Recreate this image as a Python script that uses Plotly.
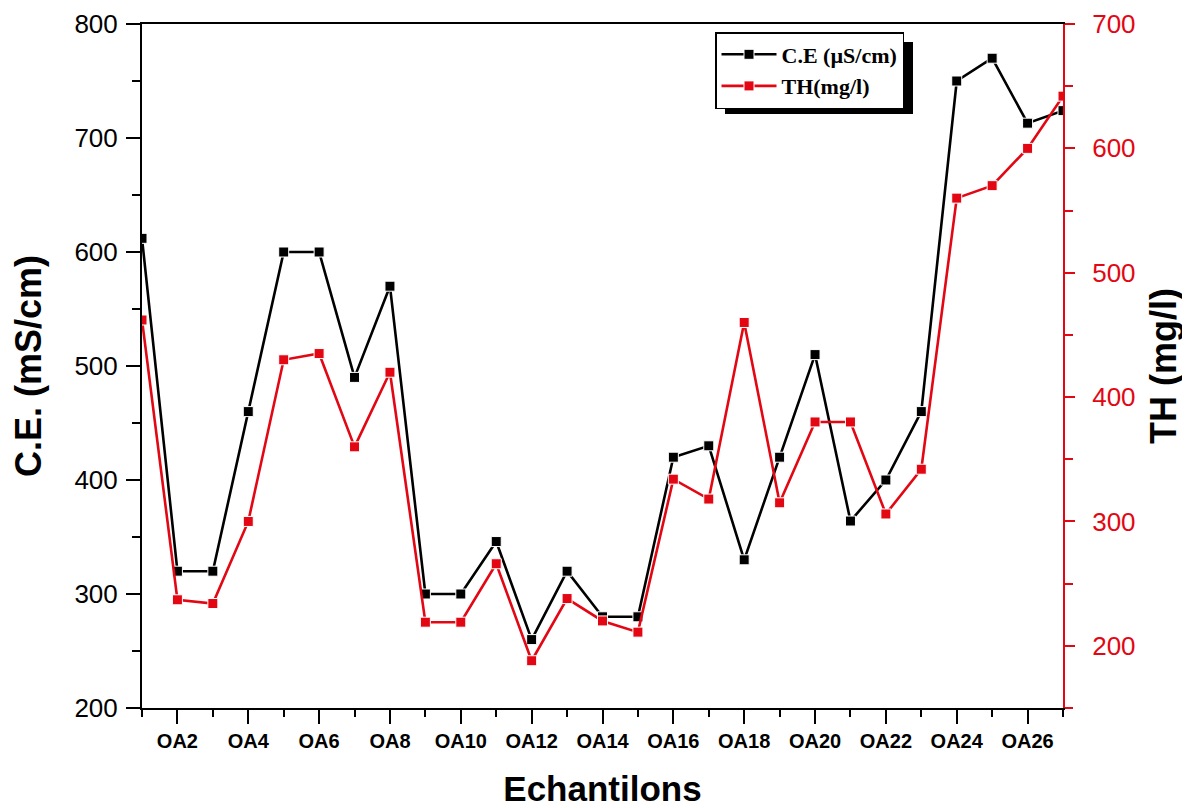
import plotly.graph_objects as go

samples = ["OA1", "OA2", "OA3", "OA4", "OA5", "OA6", "OA7", "OA8", "OA9", "OA10",
           "OA11", "OA12", "OA13", "OA14", "OA15", "OA16", "OA17", "OA18", "OA19",
           "OA20", "OA21", "OA22", "OA23", "OA24", "OA25", "OA26", "OA27"]
ce_values = [612, 320, 320, 460, 600, 600, 490, 570, 300, 300, 346, 260, 320, 280,
             280, 420, 430, 330, 420, 510, 364, 400, 460, 750, 770, 713, 724]
th_values = [462, 237, 234, 300, 430, 435, 360, 420, 219, 219, 266, 188, 238, 220,
             211, 334, 318, 460, 315, 380, 380, 306, 342, 560, 570, 600, 642]

positions = list(range(1, len(samples) + 1))
major_pos = positions[1::2]
major_text = samples[1::2]
minor_pos = positions[0::2]

RED = "#e30613"
SANS = "Liberation Sans, Arial, sans-serif"
SERIF = "Liberation Serif, Times New Roman, serif"

# page body has an 8px margin: the figure is drawn at (8, 8) in the window
OFF = 8
FIG_W, FIG_H = 1190 - OFF, 808 - OFF
PL, PR, PT, PB = 142, 1063, 24, 708          # plot area in window pixels
PW, PH = PR - PL, PB - PT

def px_x(wx):
    return (wx - PL) / PW

def px_y(wy):
    return 1 - (wy - PT) / PH

fig = go.Figure()
fig.add_trace(go.Scatter(
    x=positions, y=ce_values, name="C.E (µS/cm)", mode="lines+markers",
    line=dict(color="black", width=2.6),
    marker=dict(symbol="square", size=10, color="black", line=dict(color="white", width=1)),
    yaxis="y"))
fig.add_trace(go.Scatter(
    x=positions, y=th_values, name="TH(mg/l)", mode="lines+markers",
    line=dict(color=RED, width=2.6),
    marker=dict(symbol="square", size=10, color=RED, line=dict(color="white", width=1)),
    yaxis="y2"))

fig.update_layout(
    width=FIG_W, height=FIG_H,
    margin=dict(l=PL - OFF, r=FIG_W - (PR - OFF), t=PT - OFF, b=FIG_H - (PB - OFF),
                autoexpand=False),
    paper_bgcolor="white", plot_bgcolor="white",
    showlegend=True,
    legend=dict(x=px_x(715), y=px_y(32), xanchor="left", yanchor="top",
                bgcolor="white", bordercolor="black", borderwidth=1.5,
                font=dict(family=SERIF, size=22, color="black", weight="bold"),
                itemwidth=55, tracegroupgap=0),
    xaxis=dict(range=[1, 27], showgrid=False, zeroline=False, automargin=False,
               showline=True, linecolor="black", linewidth=2, mirror=True,
               ticks="outside", ticklen=14, tickwidth=2, tickcolor="black",
               tickvals=major_pos, ticktext=major_text,
               tickfont=dict(family=SANS, size=20, color="black", weight="bold"),
               ticklabelstandoff=0,
               minor=dict(tickvals=minor_pos, ticks="outside", ticklen=7,
                          tickwidth=2, tickcolor="black"),
               title=dict(text="Echantilons", standoff=34,
                          font=dict(family=SANS, size=35, color="black", weight="bold"))),
    yaxis=dict(range=[200, 800], showgrid=False, zeroline=False, automargin=False,
               showline=True, linecolor="black", linewidth=2,
               ticks="outside", ticklen=14, tickwidth=2, tickcolor="black",
               tick0=200, dtick=100,
               tickfont=dict(family=SANS, size=26, color="black"),
               ticklabelstandoff=3,
               minor=dict(ticks="outside", ticklen=8, tickwidth=2, tickcolor="black",
                          dtick=50, tick0=200),
               title=dict(text="C.E. (mS/cm)", standoff=27,
                          font=dict(family=SANS, size=36, color="black", weight="bold"))),
    yaxis2=dict(range=[150, 700], overlaying="y", side="right", anchor="x",
                showgrid=False, zeroline=False, automargin=False,
                showline=True, linecolor=RED, linewidth=2,
                ticks="outside", ticklen=10, tickwidth=2, tickcolor=RED,
                tick0=200, dtick=100,
                tickfont=dict(family=SANS, size=26, color=RED),
                ticklabelstandoff=12,
                minor=dict(ticks="outside", ticklen=8, tickwidth=2, tickcolor=RED,
                           dtick=50, tick0=150),
                title=dict(text="TH (mg/l)", standoff=16,
                           font=dict(family=SANS, size=36, color="black", weight="bold"))),
)

# drop shadow behind the legend box (offset 10px right and down)
LEG_W, LEG_H = 188, 72
fig.add_shape(type="rect", xref="paper", yref="paper",
              x0=px_x(715 + 10), x1=px_x(715 + LEG_W + 10),
              y0=px_y(32 + LEG_H + 10), y1=px_y(32 + 10),
              fillcolor="black", line=dict(width=0), layer="above")

fig.write_html("out.html")
